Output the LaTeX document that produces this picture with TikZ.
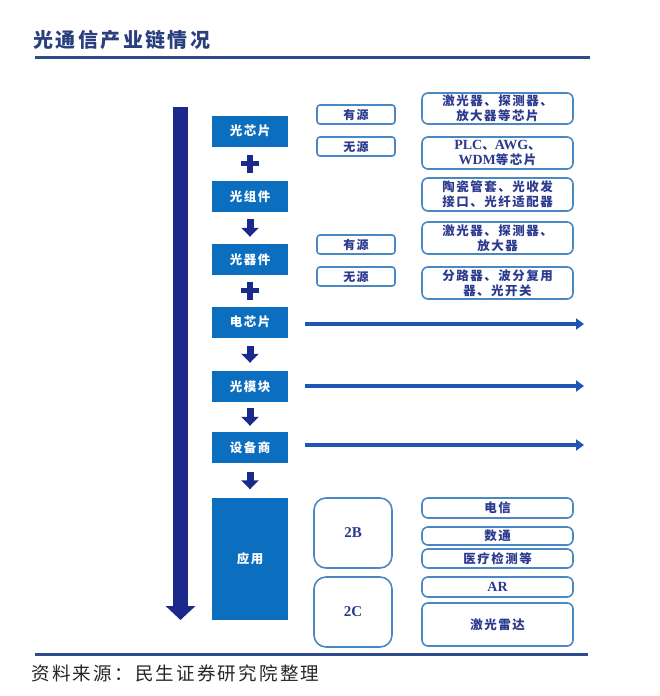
\documentclass[tikz,border=0pt]{standalone}
\usepackage{fontspec}
\usetikzlibrary{arrows.meta}
\newfontfamily\cjk{Noto Sans CJK SC}
\newfontfamily\cjksp[LetterSpace=12]{Noto Sans CJK SC}
\newfontfamily\latf{Liberation Serif}
\newcommand{\latw}[1]{{\latf\bfseries\fontsize{14}{15}\selectfont #1}}
\definecolor{navy}{HTML}{1B2A8A}
\definecolor{fillblue}{HTML}{0B6EBF}
\definecolor{edgeblue}{HTML}{4A88C4}
\definecolor{txtblue}{HTML}{2B3A8F}
\definecolor{harrow}{HTML}{1F56B4}
\definecolor{titleblue}{HTML}{2A3F7E}
\definecolor{rulecol}{HTML}{2F4B8C}
\tikzset{
  stage/.style={fill=fillblue, text=white, minimum width=76, minimum height=31, inner sep=0,
    font=\cjksp\bfseries\fontsize{12.5}{14}\selectfont},
  tagbox/.style={draw=edgeblue, line width=1.6, rounded corners=3, minimum width=78, minimum height=19,
    inner sep=0, text=txtblue, font=\cjksp\bfseries\fontsize{12}{14}\selectfont},
  itembox/.style={draw=edgeblue, line width=1.6, rounded corners=6, minimum width=151, inner sep=0,
    align=center, text=txtblue, font=\cjksp\bfseries\fontsize{12.5}{15}\selectfont},
  bigbox/.style={draw=edgeblue, line width=1.6, rounded corners=12, minimum width=78, minimum height=70,
    inner sep=0, text=txtblue, font=\latf\bfseries\fontsize{15}{17}\selectfont},
  darrow/.style={draw=navy, line width=7, -{Triangle[width=17pt,length=9pt]}},
  harr/.style={draw=harrow, line width=4, -{Triangle[width=11pt,length=8pt]}},
  plussign/.style={minimum size=18, inner sep=0,
    path picture={
      \fill[navy] ([xshift=-9pt,yshift=-2.6pt]path picture bounding box.center) rectangle ([xshift=9pt,yshift=2.6pt]path picture bounding box.center);
      \fill[navy] ([xshift=-2.6pt,yshift=-9pt]path picture bounding box.center) rectangle ([xshift=2.6pt,yshift=9pt]path picture bounding box.center);
    }},
  rulestyle/.style={draw=rulecol, line width=3},
}
\begin{document}
\begin{tikzpicture}[x=1pt,y=-1pt]
\useasboundingbox (0,0) rectangle (660,696);
% title and rules
\node[anchor=west, text=titleblue, font=\cjksp\bfseries\fontsize{20}{22}\selectfont] (title) at (30,40) {光通信产业链情况};
\coordinate (r1a) at (35,57); \coordinate (r1b) at (590,57);
\draw[rulestyle] (r1a) -- (r1b);
\coordinate (r2a) at (35,654); \coordinate (r2b) at (588,654);
\draw[rulestyle] (r2a) -- (r2b);
\node[anchor=west, text=black!85, font=\cjksp\fontsize{18.5}{20}\selectfont] (src) at (28,673) {资料来源：民生证券研究院整理};

% big vertical arrow
\coordinate (vtop) at (180.5,107); \coordinate (vbot) at (180.5,620);
\draw[draw=navy, line width=15, -{Triangle[width=29pt,length=14pt]}] (vtop) -- (vbot);

% stages
\node[stage] (s1) at (250,131) {光芯片};
\node[stage] (s2) at (250,196.5) {光组件};
\node[stage] (s3) at (250,259.5) {光器件};
\node[stage] (s4) at (250,322) {电芯片};
\node[stage] (s5) at (250,386.5) {光模块};
\node[stage] (s6) at (250,447.5) {设备商};
\node[stage, minimum height=122] (s7) at (250,559) {应用};

\path (s1.south) -- node[plussign] (p1) {} (s2.north);
\path (s3.south) -- node[plussign] (p2) {} (s4.north);
\draw[darrow, shorten <=7pt, shorten >=7pt] (s2.south) -- (s3.north);
\draw[darrow, shorten <=8pt, shorten >=8pt] (s4.south) -- (s5.north);
\draw[darrow, shorten <=6pt, shorten >=6pt] (s5.south) -- (s6.north);
\draw[darrow, shorten <=8.5pt, shorten >=8.5pt] (s6.south) -- (s7.north);

% horizontal arrows
\coordinate (h1s) at (305,324); \coordinate (h1e) at (584,324);
\coordinate (h2s) at (305,386); \coordinate (h2e) at (584,386);
\coordinate (h3s) at (305,445); \coordinate (h3e) at (584,445);
\draw[harr] (h1s) -- (h1e);
\draw[harr] (h2s) -- (h2e);
\draw[harr] (h3s) -- (h3e);

% tags
\node[tagbox] (t1) at (356,114.5) {有源};
\node[tagbox] (t2) at (356,146.5) {无源};
\node[tagbox] (t3) at (356,244.5) {有源};
\node[tagbox] (t4) at (356,276.5) {无源};

% items
\node[itembox, minimum height=31] (i1) at (497.5,108.5) {激光器、探测器、\\放大器等芯片};
\node[itembox, minimum height=32] (i2) at (497.5,153) {\latw{PLC}、\latw{AWG}、\\\latw{WDM}等芯片};
\node[itembox, minimum height=33] (i3) at (497.5,194.5) {陶瓷管套、光收发\\接口、光纤适配器};
\node[itembox, minimum height=32] (i4) at (497.5,238) {激光器、探测器、\\放大器};
\node[itembox, minimum height=32] (i5) at (497.5,283) {分路器、波分复用\\器、光开关};

% applications
\node[bigbox] (b1) at (353,533) {2B};
\node[bigbox] (b2) at (353,612) {2C};
\node[itembox, minimum height=20] (a1) at (497.5,508) {电信};
\node[itembox, minimum height=18] (a2) at (497.5,536) {数通};
\node[itembox, minimum height=19] (a3) at (497.5,558.5) {医疗检测等};
\node[itembox, minimum height=20] (a4) at (497.5,587) {\latw{AR}};
\node[itembox, minimum height=43] (a5) at (497.5,624.5) {激光雷达};
\end{tikzpicture}
\end{document}
